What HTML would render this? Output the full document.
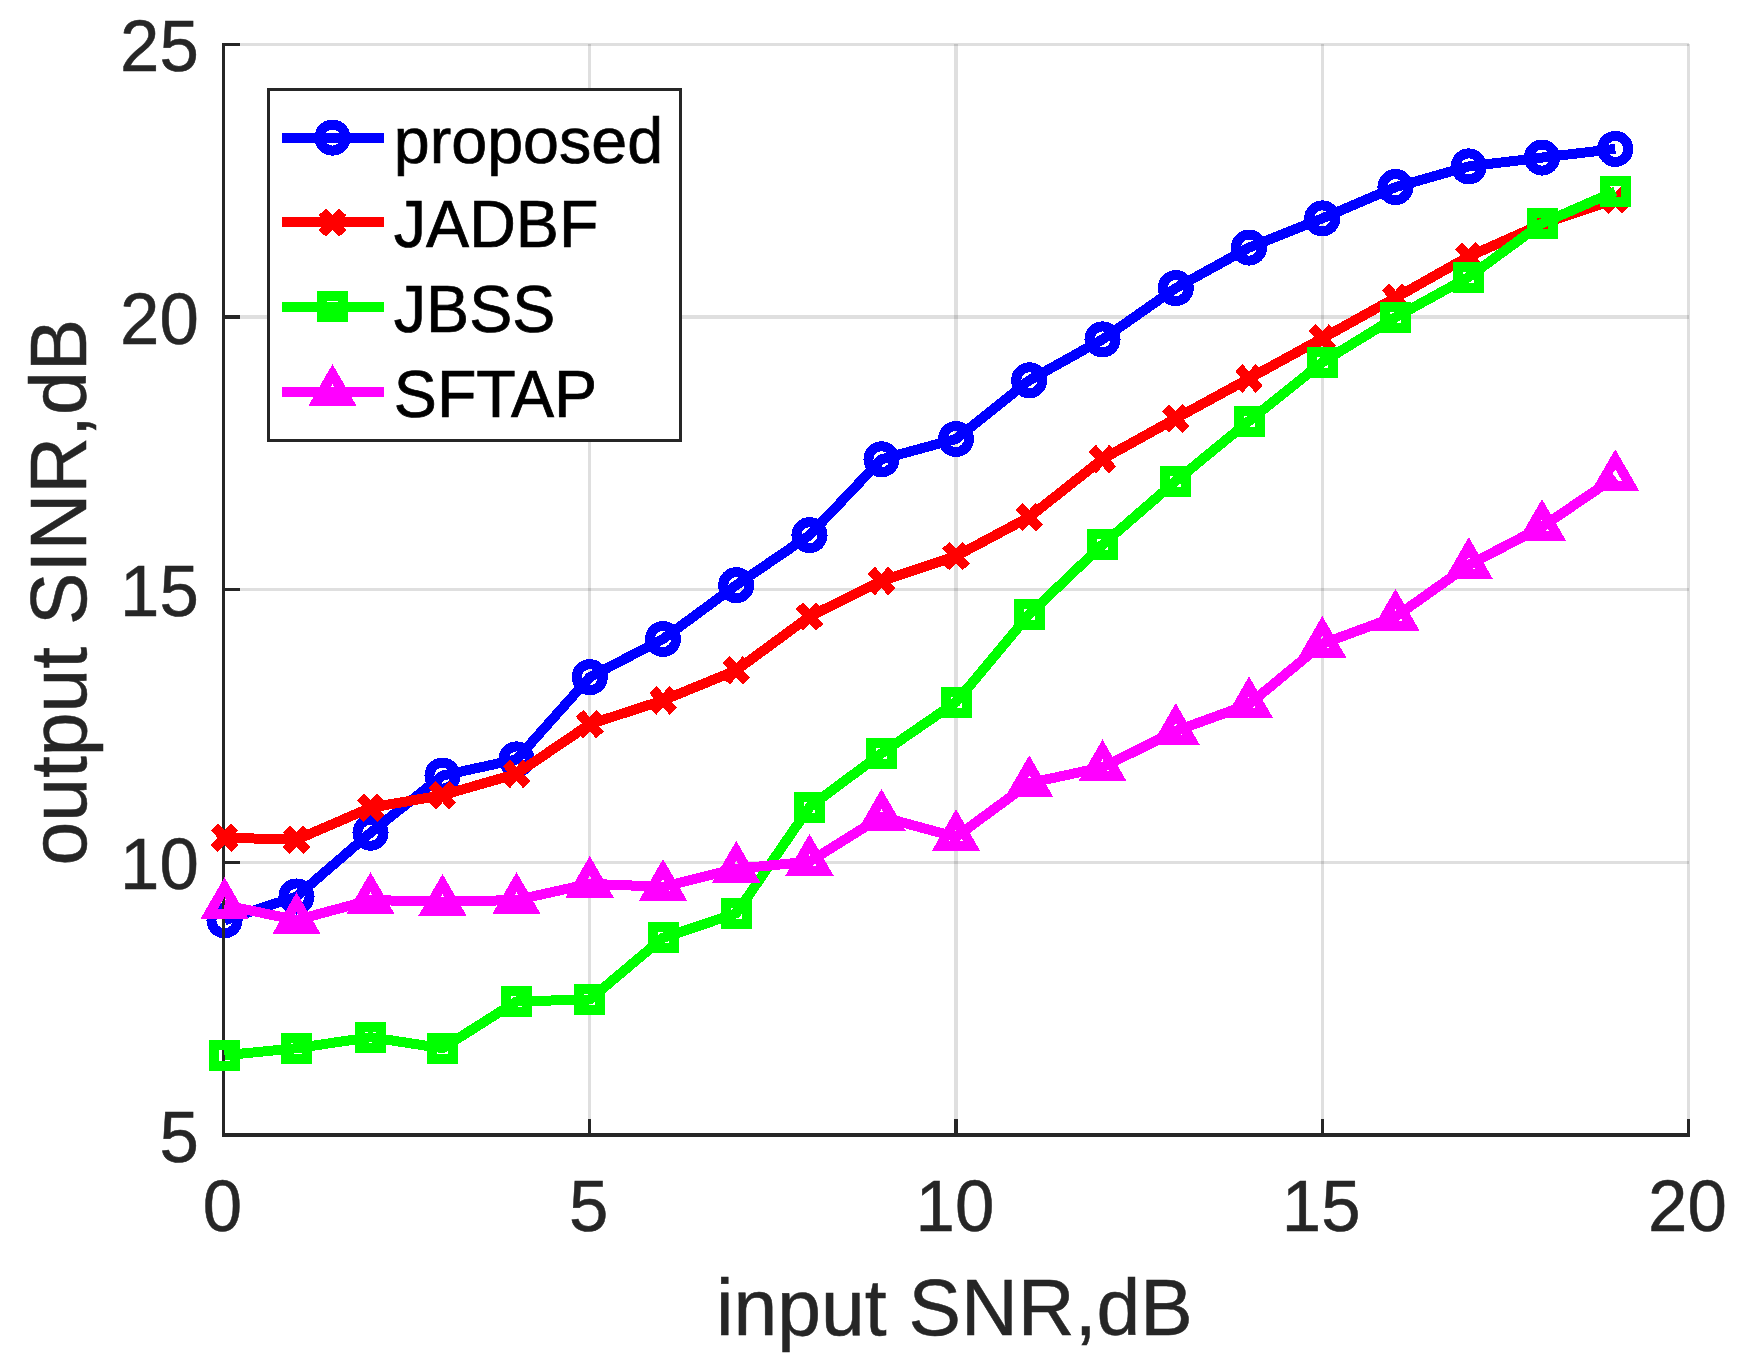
<!DOCTYPE html>
<html lang="en">
<head>
<meta charset="utf-8">
<title>output SINR vs input SNR</title>
<style>
html,body{margin:0;padding:0;background:#fff;}
body{width:1742px;height:1367px;overflow:hidden;}
svg{display:block;}
text{font-family:"Liberation Sans",sans-serif;}
.tick{font-size:70.8px;fill:#262626;stroke:#262626;stroke-width:0.5px;}
.lab{font-size:78.7px;fill:#262626;stroke:#262626;stroke-width:0.5px;}
.leg{font-size:64.6px;fill:#000;stroke:#000;stroke-width:0.7px;}
</style>
</head>
<body>
<svg width="1742" height="1367" viewBox="0 0 1742 1367">
<rect x="0" y="0" width="1742" height="1367" fill="#fff"/>
<g fill="rgb(38,38,38)" fill-opacity="0.15">
<rect x="588" y="44" width="3" height="1090"/><rect x="954" y="44" width="4" height="1090"/><rect x="1321" y="44" width="3" height="1090"/><rect x="1687" y="44" width="3" height="1090"/><rect x="225" y="43" width="1464" height="3"/><rect x="225" y="315" width="1464" height="4"/><rect x="225" y="588" width="1464" height="3"/><rect x="225" y="861" width="1464" height="3"/>
</g>
<g shape-rendering="crispEdges">
<g stroke="#0000ff" fill="none" stroke-width="10" stroke-linejoin="miter" stroke-miterlimit="10">
<polyline stroke-linejoin="round" points="224.5,920.3 296.5,896.5 370.5,832.7 442.5,775.6 516.5,759.4 589.75,677.2 663,639 736.25,585.2 809.5,535.2 881.5,459.3 956,439 1029.25,380.3 1102.5,339.4 1175.75,288.1 1249,247.6 1322.25,218.4 1395.5,187.1 1468.75,166.4 1542,157.6 1615.25,148.9"/>
<circle cx="224.5" cy="920.3" r="13.05"/><circle cx="296.5" cy="896.5" r="13.05"/><circle cx="370.5" cy="832.7" r="13.05"/><circle cx="442.5" cy="775.6" r="13.05"/><circle cx="516.5" cy="759.4" r="13.05"/><circle cx="589.75" cy="677.2" r="13.05"/><circle cx="663" cy="639" r="13.05"/><circle cx="736.25" cy="585.2" r="13.05"/><circle cx="809.5" cy="535.2" r="13.05"/><circle cx="881.5" cy="459.3" r="13.05"/><circle cx="956" cy="439" r="13.05"/><circle cx="1029.25" cy="380.3" r="13.05"/><circle cx="1102.5" cy="339.4" r="13.05"/><circle cx="1175.75" cy="288.1" r="13.05"/><circle cx="1249" cy="247.6" r="13.05"/><circle cx="1322.25" cy="218.4" r="13.05"/><circle cx="1395.5" cy="187.1" r="13.05"/><circle cx="1468.75" cy="166.4" r="13.05"/><circle cx="1542" cy="157.6" r="13.05"/><circle cx="1615.25" cy="148.9" r="13.05"/>
</g>
</g>
<g fill="#262626">
<rect x="222" y="43" width="3" height="1094"/><rect x="222" y="1133" width="1468" height="4"/><rect x="588" y="1119" width="3" height="15"/><rect x="954" y="1119" width="4" height="15"/><rect x="1321" y="1119" width="3" height="15"/><rect x="1687" y="1119" width="3" height="15"/><rect x="223" y="43" width="17" height="3"/><rect x="223" y="315" width="17" height="4"/><rect x="223" y="588" width="17" height="3"/><rect x="223" y="861" width="17" height="3"/>
</g>
<g class="tick" text-anchor="end">
<text transform="translate(198.8 71.3) scale(1 1.025)">25</text><text transform="translate(198.8 343.88) scale(1 1.025)">20</text><text transform="translate(198.8 616.45) scale(1 1.025)">15</text><text transform="translate(198.8 889.02) scale(1 1.025)">10</text><text transform="translate(198.8 1161.6) scale(1 1.025)">5</text>
</g>
<g class="tick" text-anchor="middle">
<text transform="translate(222.5 1230.7) scale(1 1.025)">0</text><text transform="translate(588.75 1230.7) scale(1 1.025)">5</text><text transform="translate(955 1230.7) scale(1 1.025)">10</text><text transform="translate(1321.25 1230.7) scale(1 1.025)">15</text><text transform="translate(1687.5 1230.7) scale(1 1.025)">20</text>
</g>
<text class="lab" text-anchor="middle" transform="translate(954.4 1335.2) scale(1 1.015)">input SNR,dB</text>
<text class="lab" text-anchor="middle" transform="translate(86.1 592.2) rotate(-90) scale(1 1.015)">output SINR,dB</text>
<g shape-rendering="crispEdges">
<g stroke="#ff0000" fill="none" stroke-width="10" stroke-linejoin="miter" stroke-miterlimit="10">
<polyline stroke-linejoin="round" points="224.5,837.7 296.5,839.7 370.5,807.7 442.5,795.2 516.5,773.9 589.75,724.2 663,700.4 736.25,670.3 809.5,616.5 881.5,581 956,556.1 1029.25,517.1 1102.5,459.1 1175.75,418.5 1249,378.5 1322.25,338.4 1395.5,297.8 1468.75,256.5 1542,223.9 1615.25,199.5"/>
<path d="M214.3 826.9L234.7 848.5M214.3 848.5L234.7 826.9"/><path d="M286.3 828.9L306.7 850.5M286.3 850.5L306.7 828.9"/><path d="M360.3 796.9L380.7 818.5M360.3 818.5L380.7 796.9"/><path d="M432.3 784.4L452.7 806M432.3 806L452.7 784.4"/><path d="M506.3 763.1L526.7 784.7M506.3 784.7L526.7 763.1"/><path d="M579.55 713.4L599.95 735M579.55 735L599.95 713.4"/><path d="M652.8 689.6L673.2 711.2M652.8 711.2L673.2 689.6"/><path d="M726.05 659.5L746.45 681.1M726.05 681.1L746.45 659.5"/><path d="M799.3 605.7L819.7 627.3M799.3 627.3L819.7 605.7"/><path d="M871.3 570.2L891.7 591.8M871.3 591.8L891.7 570.2"/><path d="M945.8 545.3L966.2 566.9M945.8 566.9L966.2 545.3"/><path d="M1019.05 506.3L1039.45 527.9M1019.05 527.9L1039.45 506.3"/><path d="M1092.3 448.3L1112.7 469.9M1092.3 469.9L1112.7 448.3"/><path d="M1165.55 407.7L1185.95 429.3M1165.55 429.3L1185.95 407.7"/><path d="M1238.8 367.7L1259.2 389.3M1238.8 389.3L1259.2 367.7"/><path d="M1312.05 327.6L1332.45 349.2M1312.05 349.2L1332.45 327.6"/><path d="M1385.3 287L1405.7 308.6M1385.3 308.6L1405.7 287"/><path d="M1458.55 245.7L1478.95 267.3M1458.55 267.3L1478.95 245.7"/><path d="M1531.8 213.1L1552.2 234.7M1531.8 234.7L1552.2 213.1"/><path d="M1605.05 188.7L1625.45 210.3M1605.05 210.3L1625.45 188.7"/>
</g>
<g stroke="#00ff00" fill="none" stroke-width="10" stroke-linejoin="miter" stroke-miterlimit="10">
<polyline stroke-linejoin="round" points="224.5,1055.3 296.5,1048.2 370.5,1037.2 442.5,1048.2 516.5,1001.4 589.75,999.5 663,937.8 736.25,913.3 809.5,807.2 881.5,753.3 956,702.1 1029.25,614.4 1102.5,544.6 1175.75,481.1 1249,421 1322.25,362.3 1395.5,317.3 1468.75,277 1542,223.4 1615.25,191.4"/>
<rect x="214" y="1044.8" width="21" height="21"/><rect x="286" y="1037.7" width="21" height="21"/><rect x="360" y="1026.7" width="21" height="21"/><rect x="432" y="1037.7" width="21" height="21"/><rect x="506" y="990.9" width="21" height="21"/><rect x="579.25" y="989" width="21" height="21"/><rect x="652.5" y="927.3" width="21" height="21"/><rect x="725.75" y="902.8" width="21" height="21"/><rect x="799" y="796.7" width="21" height="21"/><rect x="871" y="742.8" width="21" height="21"/><rect x="945.5" y="691.6" width="21" height="21"/><rect x="1018.75" y="603.9" width="21" height="21"/><rect x="1092" y="534.1" width="21" height="21"/><rect x="1165.25" y="470.6" width="21" height="21"/><rect x="1238.5" y="410.5" width="21" height="21"/><rect x="1311.75" y="351.8" width="21" height="21"/><rect x="1385" y="306.8" width="21" height="21"/><rect x="1458.25" y="266.5" width="21" height="21"/><rect x="1531.5" y="212.9" width="21" height="21"/><rect x="1604.75" y="180.9" width="21" height="21"/>
</g>
<g stroke="#ff00ff" fill="none" stroke-width="10" stroke-linejoin="miter" stroke-miterlimit="10">
<polyline stroke-linejoin="round" points="224.5,905.1 296.5,920.1 370.5,900 442.5,901.8 516.5,900 589.75,883.8 663,886.8 736.25,868.7 809.5,861.7 881.5,816.7 956,837 1029.25,783.1 1102.5,767.3 1175.75,731 1249,704.3 1322.25,643.8 1395.5,616.8 1468.75,565 1542,526.9 1615.25,477.1"/>
<path d="M224.5 887.22L239.98 914.04L209.02 914.04Z"/><path d="M296.5 902.22L311.98 929.04L281.02 929.04Z"/><path d="M370.5 882.12L385.98 908.94L355.02 908.94Z"/><path d="M442.5 883.92L457.98 910.74L427.02 910.74Z"/><path d="M516.5 882.12L531.98 908.94L501.02 908.94Z"/><path d="M589.75 865.92L605.23 892.74L574.27 892.74Z"/><path d="M663 868.92L678.48 895.74L647.52 895.74Z"/><path d="M736.25 850.82L751.73 877.64L720.77 877.64Z"/><path d="M809.5 843.82L824.98 870.64L794.02 870.64Z"/><path d="M881.5 798.82L896.98 825.64L866.02 825.64Z"/><path d="M956 819.12L971.48 845.94L940.52 845.94Z"/><path d="M1029.25 765.22L1044.73 792.04L1013.77 792.04Z"/><path d="M1102.5 749.42L1117.98 776.24L1087.02 776.24Z"/><path d="M1175.75 713.12L1191.23 739.94L1160.27 739.94Z"/><path d="M1249 686.42L1264.48 713.24L1233.52 713.24Z"/><path d="M1322.25 625.92L1337.73 652.74L1306.77 652.74Z"/><path d="M1395.5 598.92L1410.98 625.74L1380.02 625.74Z"/><path d="M1468.75 547.12L1484.23 573.94L1453.27 573.94Z"/><path d="M1542 509.02L1557.48 535.84L1526.52 535.84Z"/><path d="M1615.25 459.22L1630.73 486.04L1599.77 486.04Z"/>
</g>
</g>
<rect x="268.5" y="89.5" width="412" height="351" fill="#fff" stroke="#262626" stroke-width="3"/>
<g shape-rendering="crispEdges">
<g stroke="#0000ff" fill="none" stroke-width="10" stroke-miterlimit="10"><line x1="282" y1="138" x2="384" y2="138"/><circle cx="332.5" cy="137.6" r="13.05"/></g>
<g stroke="#ff0000" fill="none" stroke-width="10" stroke-miterlimit="10"><line x1="282" y1="222" x2="384" y2="222"/><path d="M322.3 211.8L342.7 233.4M322.3 233.4L342.7 211.8"/></g>
<g stroke="#00ff00" fill="none" stroke-width="10" stroke-miterlimit="10"><line x1="282" y1="307" x2="384" y2="307"/><rect x="322" y="296" width="21" height="21"/></g>
<g stroke="#ff00ff" fill="none" stroke-width="10" stroke-miterlimit="10"><line x1="282" y1="392" x2="384" y2="392"/><path d="M332.5 374.12L347.98 400.94L317.02 400.94Z"/></g>
</g>
<g class="leg">
<text transform="translate(393.8 162.9) scale(1 1.0)">proposed</text><text transform="translate(393.8 246.9) scale(1 1.03)">JADBF</text><text transform="translate(393.8 331.9) scale(1 1.03)">JBSS</text><text transform="translate(393.8 416.9) scale(1 1.03)">SFTAP</text>
</g>
</svg>
</body>
</html>
